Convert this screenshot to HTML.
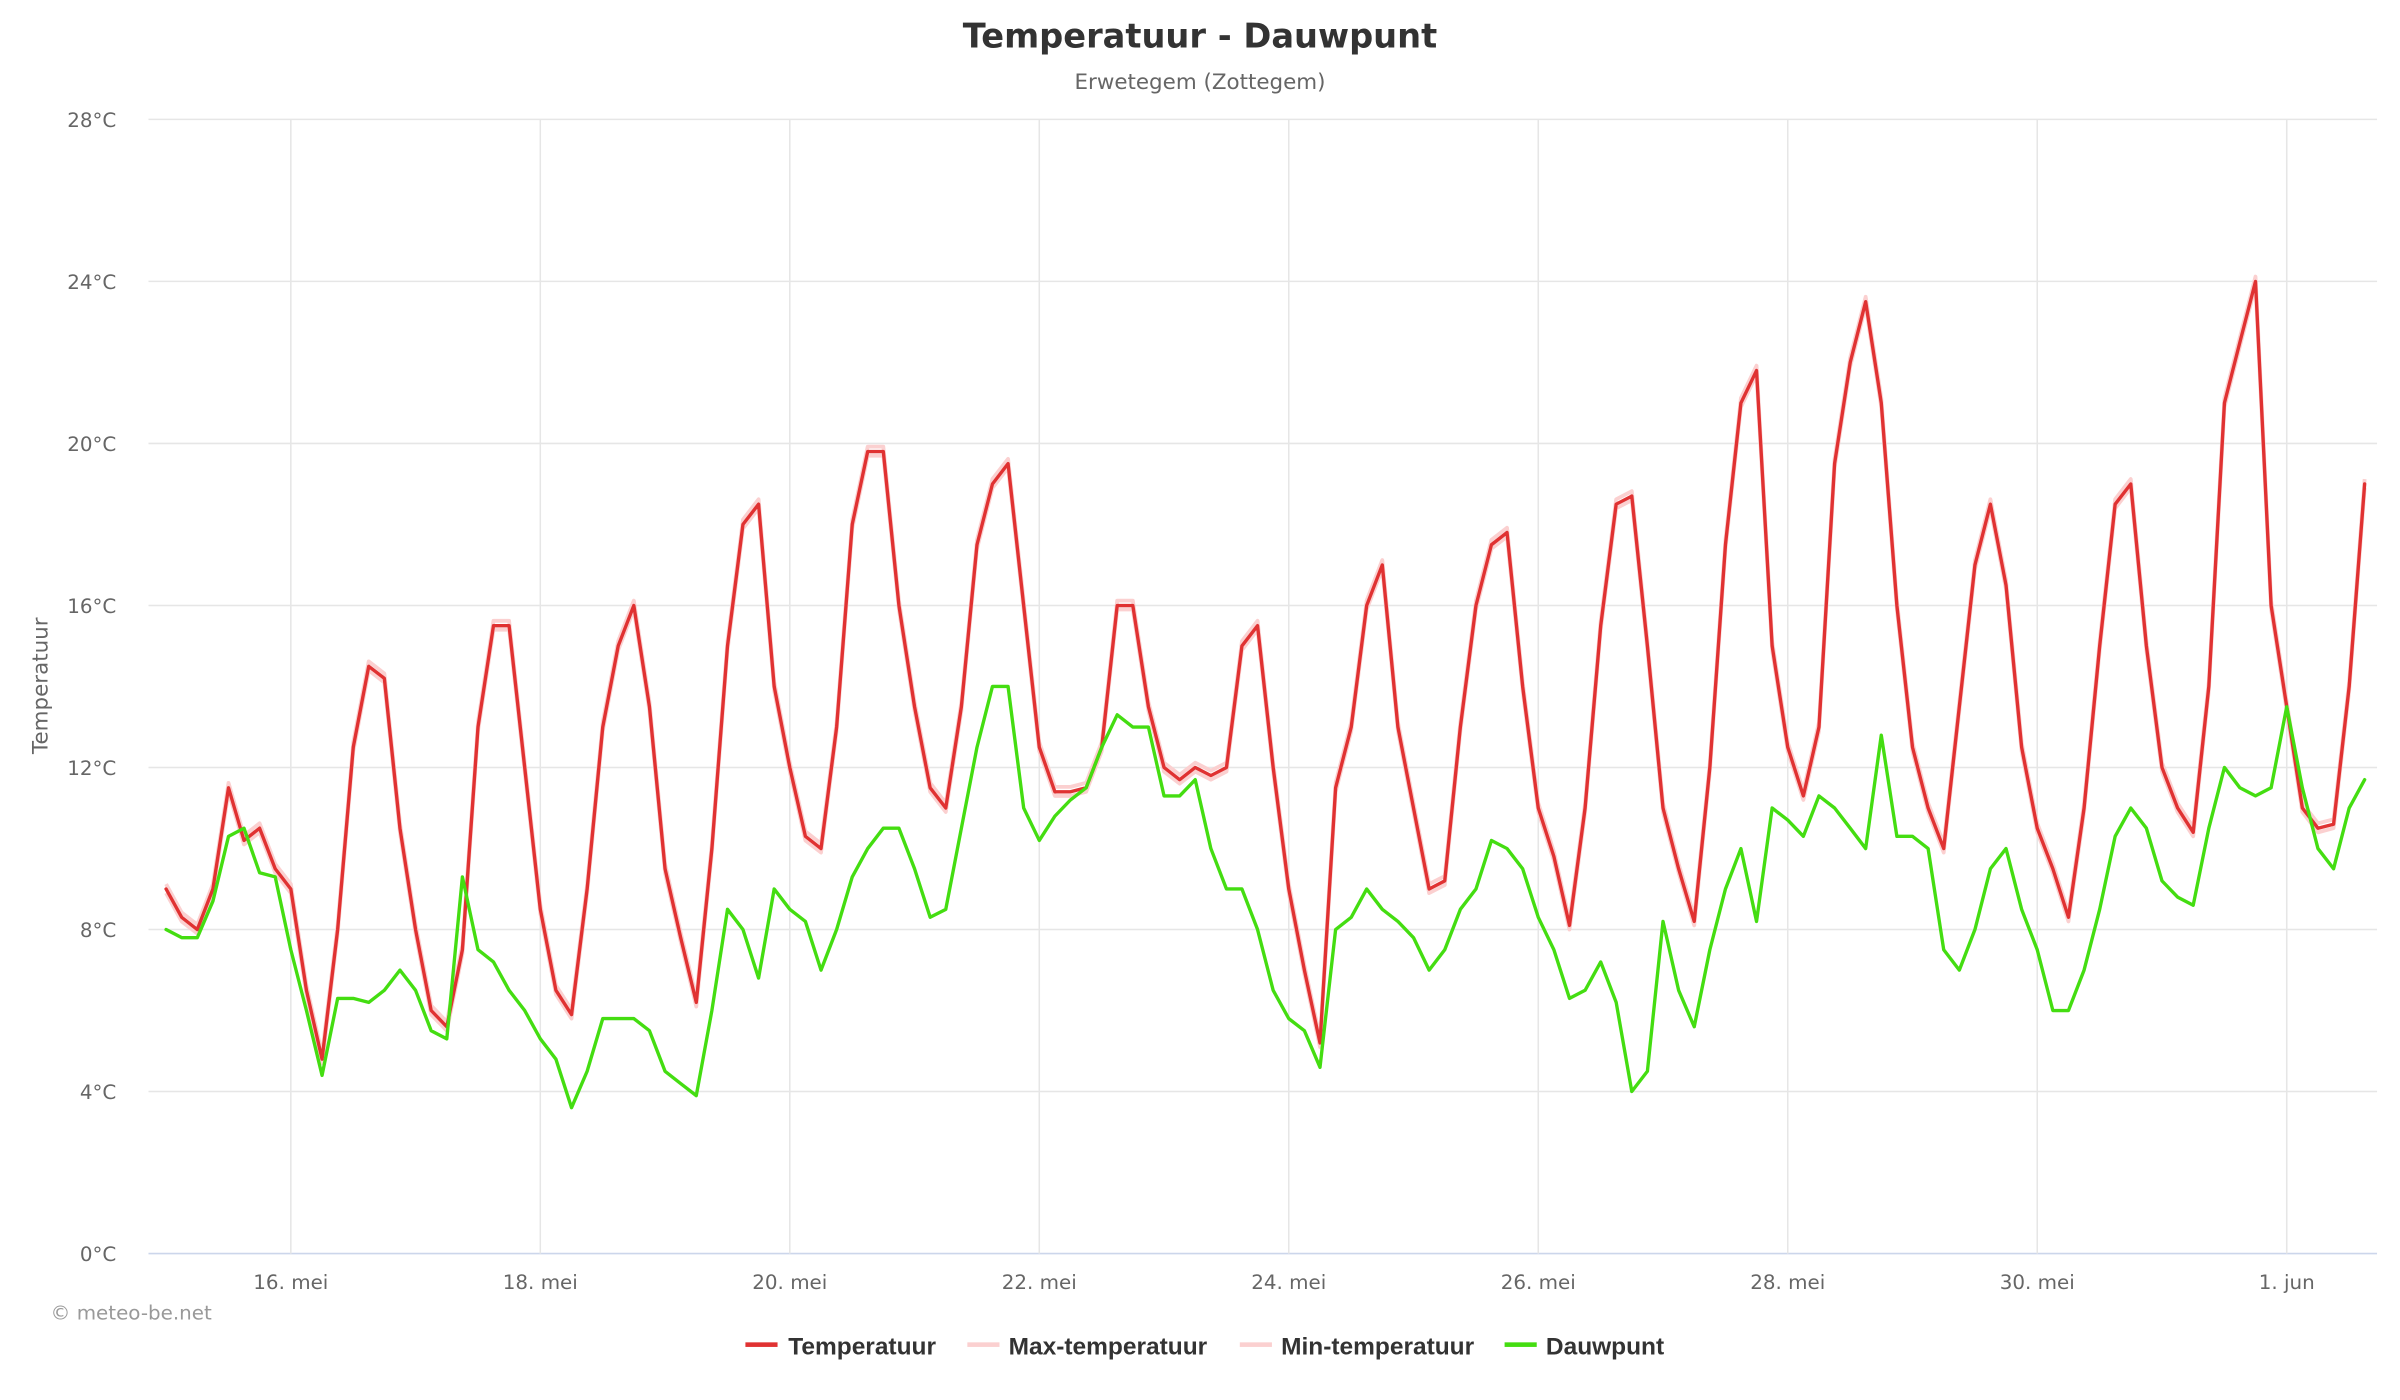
<!DOCTYPE html>
<html><head><meta charset="utf-8"><style>
html,body{margin:0;padding:0;background:#fff;}
svg{display:block;font-family:"DejaVu Sans","Liberation Sans",sans-serif;}
</style></head><body>
<svg id="chart" width="2400" height="1400" viewBox="0 0 1568 914.67" xmlns="http://www.w3.org/2000/svg">
<rect width="1568" height="915" fill="#fff"/>
<text x="784" y="31" text-anchor="middle" font-size="22" font-weight="bold" fill="#333">Temperatuur - Dauwpunt</text>
<text x="784" y="58" text-anchor="middle" font-size="14" fill="#666">Erwetegem (Zottegem)</text>
<g id="grid"></g>
<g id="yaxis"></g>
<g id="xaxis"></g>
<text transform="translate(31,448) rotate(-90)" text-anchor="middle" font-size="14" fill="#666">Temperatuur</text>
<g id="series"></g>
<text x="33" y="862" font-size="13" fill="#999">© meteo-be.net</text>
<g font-size="16" font-weight="bold" fill="#333" style="font-family:'Liberation Sans',sans-serif">
 <g><rect x="487" y="877" width="21" height="3" fill="#e03232"/><text x="515" y="885">Temperatuur</text></g>
 <g><rect x="632" y="877" width="21" height="3" fill="#fbd0d0"/><text x="659" y="885">Max-temperatuur</text></g>
 <g><rect x="810" y="877" width="21" height="3" fill="#fbd0d0"/><text x="837" y="885">Min-temperatuur</text></g>
 <g><rect x="983" y="877" width="21" height="3" fill="#44dd11"/><text x="1010" y="885">Dauwpunt</text></g>
</g>
</svg>
<script>
const yTicks = [0,4,8,12,16,20,24,28];
const xTickDays = [1,3,5,7,9,11,13,15,17];
const xTickLabels = ["16. mei","18. mei","20. mei","22. mei","24. mei","26. mei","28. mei","30. mei","1. jun"];
const stepHours = 3;
const temperature = [
9.0,8.3,8.0,9.0,11.5,10.2,10.5,9.5,
9.0,6.5,4.8,8.0,12.5,14.5,14.2,10.5,
8.0,6.0,5.6,7.5,13.0,15.5,15.5,12.0,
8.5,6.5,5.9,9.0,13.0,15.0,16.0,13.5,
9.5,7.8,6.2,10.0,15.0,18.0,18.5,14.0,
12.0,10.3,10.0,13.0,18.0,19.8,19.8,16.0,
13.5,11.5,11.0,13.5,17.5,19.0,19.5,16.0,
12.5,11.4,11.4,11.5,12.5,16.0,16.0,13.5,
12.0,11.7,12.0,11.8,12.0,15.0,15.5,12.0,
9.0,7.0,5.2,11.5,13.0,16.0,17.0,13.0,
11.0,9.0,9.2,13.0,16.0,17.5,17.8,14.0,
11.0,9.8,8.1,11.0,15.5,18.5,18.7,15.0,
11.0,9.5,8.2,12.0,17.5,21.0,21.8,15.0,
12.5,11.3,13.0,19.5,22.0,23.5,21.0,16.0,
12.5,11.0,10.0,13.5,17.0,18.5,16.5,12.5,
10.5,9.5,8.3,11.0,15.0,18.5,19.0,15.0,
12.0,11.0,10.4,14.0,21.0,22.5,24.0,16.0,
13.5,11.0,10.5,10.6,14.0,19.0
];
const dewpoint = [
8.0,7.8,7.8,8.7,10.3,10.5,9.4,9.3,
7.5,6.0,4.4,6.3,6.3,6.2,6.5,7.0,
6.5,5.5,5.3,9.3,7.5,7.2,6.5,6.0,
5.3,4.8,3.6,4.5,5.8,5.8,5.8,5.5,
4.5,4.2,3.9,6.0,8.5,8.0,6.8,9.0,
8.5,8.2,7.0,8.0,9.3,10.0,10.5,10.5,
9.5,8.3,8.5,10.5,12.5,14.0,14.0,11.0,
10.2,10.8,11.2,11.5,12.5,13.3,13.0,13.0,
11.3,11.3,11.7,10.0,9.0,9.0,8.0,6.5,
5.8,5.5,4.6,8.0,8.3,9.0,8.5,8.2,
7.8,7.0,7.5,8.5,9.0,10.2,10.0,9.5,
8.3,7.5,6.3,6.5,7.2,6.2,4.0,4.5,
8.2,6.5,5.6,7.5,9.0,10.0,8.2,11.0,
10.7,10.3,11.3,11.0,10.5,10.0,12.8,10.3,
10.3,10.0,7.5,7.0,8.0,9.5,10.0,8.5,
7.5,6.0,6.0,7.0,8.5,10.3,11.0,10.5,
9.2,8.8,8.6,10.5,12.0,11.5,11.3,11.5,
13.5,11.5,10.0,9.5,11.0,11.7
];
const L=97,R=1553,T=78,B=819,ymax=28,x0=108.5,dayW=81.5;
const ns="http://www.w3.org/2000/svg";
function yS(v){return B-(v/ymax)*(B-T);}
function xS(h){return x0+dayW*h/24;}
function mk(tag,attrs,parent){const e=document.createElementNS(ns,tag);for(const k in attrs)e.setAttribute(k,attrs[k]);parent.appendChild(e);return e;}
const grid=document.getElementById('grid'),ya=document.getElementById('yaxis'),xa=document.getElementById('xaxis'),ser=document.getElementById('series');
yTicks.forEach(v=>{
 const l=mk('line',{x1:L,x2:R,y1:yS(v),y2:yS(v),stroke:v===0?'#ccd6eb':'#e6e6e6','stroke-width':1},grid);
 
 
 const t=mk('text',{x:76,y:yS(v)+5,'text-anchor':'end','font-size':13,fill:'#666'},ya);
 
 
 t.textContent=v+'°C';
});
xTickDays.forEach((d,i)=>{
 const x=xS(d*24);
 const l=mk('line',{x1:x,x2:x,y1:T,y2:B,stroke:'#e6e6e6','stroke-width':1},grid);
 
 
 const t=mk('text',{x:x,y:842,'text-anchor':'middle','font-size':13,fill:'#666'},xa);
 
 
 t.textContent=xTickLabels[i];
});
function pts(arr,off){return arr.map((v,i)=>xS(i*stepHours).toFixed(1)+','+yS(v+off).toFixed(1)).join(' ');}
const mx=mk('polyline',{points:pts(temperature,0.12),fill:'none',stroke:'#fbd0d0','stroke-width':2.5,'stroke-linejoin':'round'},ser);


const mn=mk('polyline',{points:pts(temperature,-0.1),fill:'none',stroke:'#fbd0d0','stroke-width':2.5,'stroke-linejoin':'round'},ser);


const tl=mk('polyline',{points:pts(temperature,0),fill:'none',stroke:'#e03232','stroke-width':2.2,'stroke-linejoin':'round','stroke-linecap':'round'},ser);


const dl=mk('polyline',{points:pts(dewpoint,0),fill:'none',stroke:'#44dd11','stroke-width':2.2,'stroke-linejoin':'round','stroke-linecap':'round'},ser);


</script>
</body></html>
